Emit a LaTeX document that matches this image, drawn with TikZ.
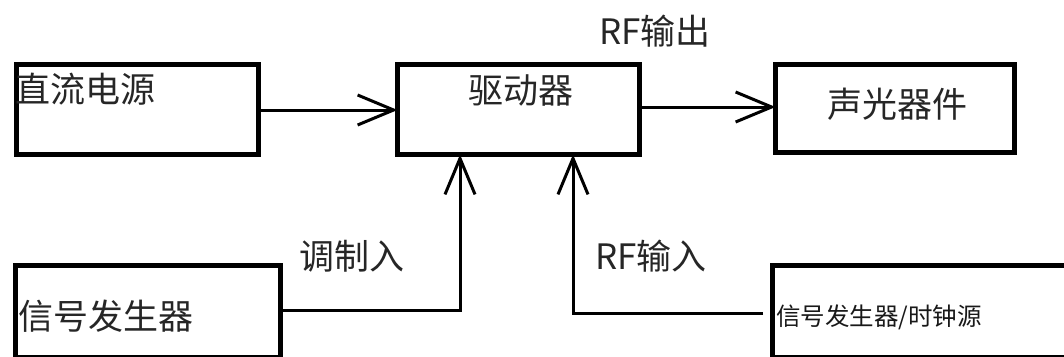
\documentclass[tikz,border=0pt]{standalone}
\usepackage{fontspec}
\setmainfont{Noto Sans CJK SC}
\usetikzlibrary{arrows.meta}
\tikzset{
  box/.style={draw=black, line width=5pt, inner sep=0pt, outer sep=0pt, rectangle},
  arr/.style={draw=black, line width=3pt, -{Straight Barb[length=36pt,width=30pt,line width=3pt]}},
  conn/.style={draw=black, line width=3pt},
  big/.style={inner sep=0pt, text=black!85, font=\fontsize{35}{40}\selectfont},
  small/.style={inner sep=0pt, text=black!90, font=\fontsize{24.5}{28}\selectfont},
}
\begin{document}
\begin{tikzpicture}[x=1pt,y=1pt]
\useasboundingbox (0,0) rectangle (1064,-356);
\begin{scope}
\clip (0,0) rectangle (1064,-356);
% boxes
\node[box, minimum width=242pt, minimum height=90pt] (dc) at (137.5,-109.5) {};
\node[box, minimum width=242pt, minimum height=90pt] (drv) at (518.5,-109.5) {};
\node[box, minimum width=239pt, minimum height=88pt] (ao) at (895,-108.5) {};
\node[box, minimum width=265pt, minimum height=92pt] (sg) at (148,-311.5) {};
\node[box, minimum width=320pt, minimum height=92pt] (clk) at (932.5,-311.5) {};
% texts
\node[big, anchor=west] (tdc) at (15,-89) {直流电源};
\node[big] (tdrv) at (521,-90) {驱动器};
\node[big] (tao) at (897,-104) {声光器件};
\node[big, anchor=west] (tsg) at (18,-316) {信号发生器};
\node[small, anchor=west] (tclk) at (776,-317) {信号发生器/时钟源};
\node[big] (lout) at (655,-31) {RF输出};
\node[big] (lmod) at (352,-256) {调制入};
\node[big] (lin) at (651,-256) {RF输入};
% connectors
\draw[arr] (dc.east |- 0,-110) -- (drv.west |- 0,-110);
\draw[arr] (drv.east |- 0,-107) -- (ao.west |- 0,-107);
\coordinate (c1) at (460,-310);
\draw[arr] (sg.east |- c1) -- (c1) -- (c1 |- drv.south);
\coordinate (c2) at (573,-313);
\coordinate (c2e) at (763,-313);
\draw[arr] (c2e) -- (c2) -- (c2 |- drv.south);
\end{scope}
\end{tikzpicture}
\end{document}
